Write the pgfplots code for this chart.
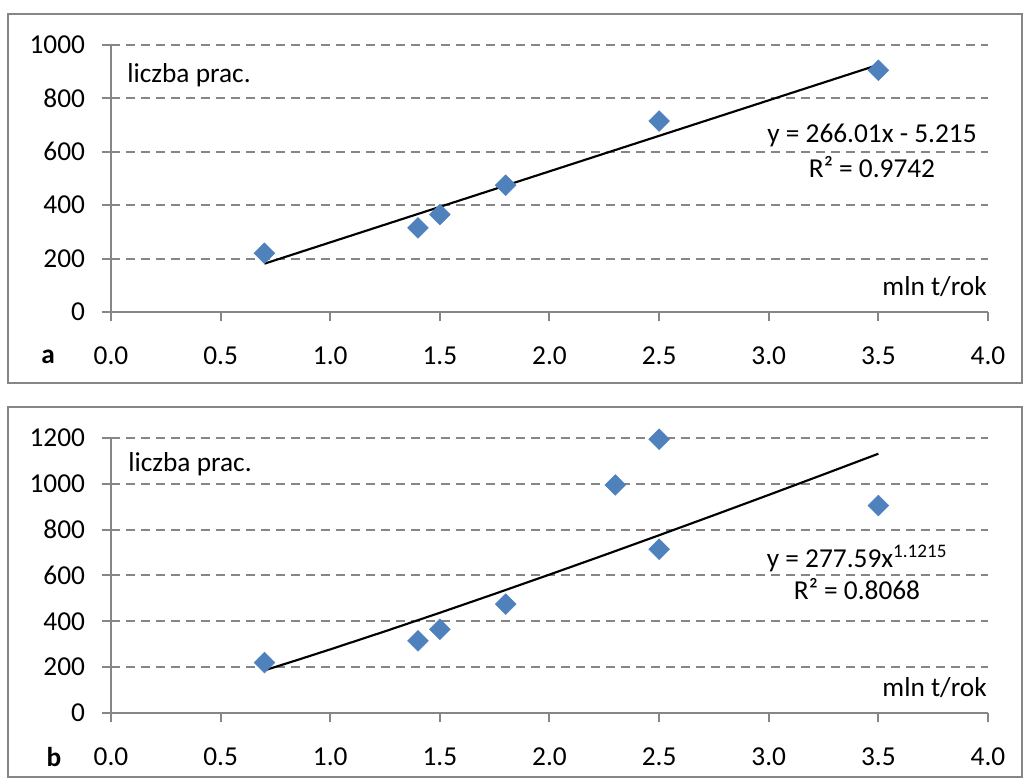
\documentclass[border=0pt]{standalone}
\usepackage{pgfplots}
\pgfplotsset{compat=1.18}
\usepackage{fontspec}
\setmainfont{Carlito}
\definecolor{mblue}{RGB}{79,129,189}
\definecolor{axgray}{RGB}{134,134,134}
\pgfplotsset{mystyle/.style={
  scale only axis, width=657.75pt,
  axis x line=bottom, axis y line=left,
  axis line style={-, axgray, line width=1.5pt},
  xmin=0, xmax=4, xtick={0,0.5,1,1.5,2,2.5,3,3.5,4},
  tick align=outside, major tick length=7pt,
  tick style={axgray, line width=1.5pt},
  ymajorgrids,
  major grid style={axgray, line width=1.5pt, dash pattern=on 6.75pt off 4.5pt},
  xticklabel style={yshift=-15.75pt, /pgf/number format/fixed, /pgf/number format/fixed zerofill, /pgf/number format/precision=1},
  yticklabel style={xshift=-9pt, /pgf/number format/1000 sep={}},
  /pgf/number format/assume math mode=true,
  tick label style={font=\fontsize{20.5}{24}\selectfont},
  clip=false,
}}
\begin{document}
\begin{tikzpicture}
\path (0,0) rectangle (769.5pt,584.25pt);
\draw[axgray, line width=1.5pt] (6pt,297pt) rectangle (766.5pt,573.75pt);
\draw[axgray, line width=1.5pt] (6pt,1.5pt) rectangle (766.5pt,279pt);

\begin{axis}[mystyle, at={(83.25pt,350.25pt)}, anchor=south west,
  height=200.25pt, ymin=0, ymax=1000, ytick={0,200,400,600,800,1000}]
\addplot[only marks, mark=square*, mark size=5.5pt, mark options={rotate=45, fill=mblue, draw=mblue}]
  coordinates {(0.7,220) (1.4,315) (1.5,365) (1.8,475) (2.5,715) (3.5,905)};
\addplot[black, line width=1.6pt] coordinates {(0.7,180.99) (3.5,925.82)};
\end{axis}

\begin{axis}[mystyle, at={(83.25pt,49.5pt)}, anchor=south west,
  height=206.25pt, ymin=0, ymax=1200, ytick={0,200,400,600,800,1000,1200}]
\addplot[only marks, mark=square*, mark size=5.5pt, mark options={rotate=45, fill=mblue, draw=mblue}]
  coordinates {(0.7,220) (1.4,315) (1.5,365) (1.8,475) (2.3,995) (2.5,1195) (2.5,715) (3.5,905)};
\addplot[black, line width=1.6pt] coordinates {
  (0.7,186.1) (0.85,231.3) (1.0,277.59) (1.25,356.5) (1.5,437.4) (1.75,520.0)
  (2.0,604.0) (2.25,689.2) (2.5,775.7) (2.75,863.2) (3.0,951.7) (3.25,1041.1) (3.5,1131.3)};
\end{axis}

\begin{scope}[every node/.style={font=\fontsize{20.5}{24}\selectfont, inner sep=0pt}]
\node[anchor=base west] at (95.25pt,522pt) {liczba prac.};
\node[anchor=base west] at (96pt,230.25pt) {liczba prac.};
\node[anchor=base east] at (740.25pt,362.25pt) {mln t/rok};
\node[anchor=base east] at (740.25pt,61.5pt) {mln t/rok};
\node[anchor=base] at (654pt,477pt) {y = 266.01x - 5.215};
\node[anchor=base] at (654pt,450.75pt) {R² = 0.9742};
\node[anchor=base] at (642.75pt,158.25pt) {y = 277.59x\textsuperscript{1.1215}};
\node[anchor=base] at (642.75pt,134.25pt) {R² = 0.8068};
\node[font=\fontsize{20.5}{24}\selectfont\bfseries] at (36pt,316.5pt) {a};
\node[font=\fontsize{20.5}{24}\selectfont\bfseries] at (40.5pt,16.5pt) {b};
\end{scope}
\end{tikzpicture}
\end{document}
